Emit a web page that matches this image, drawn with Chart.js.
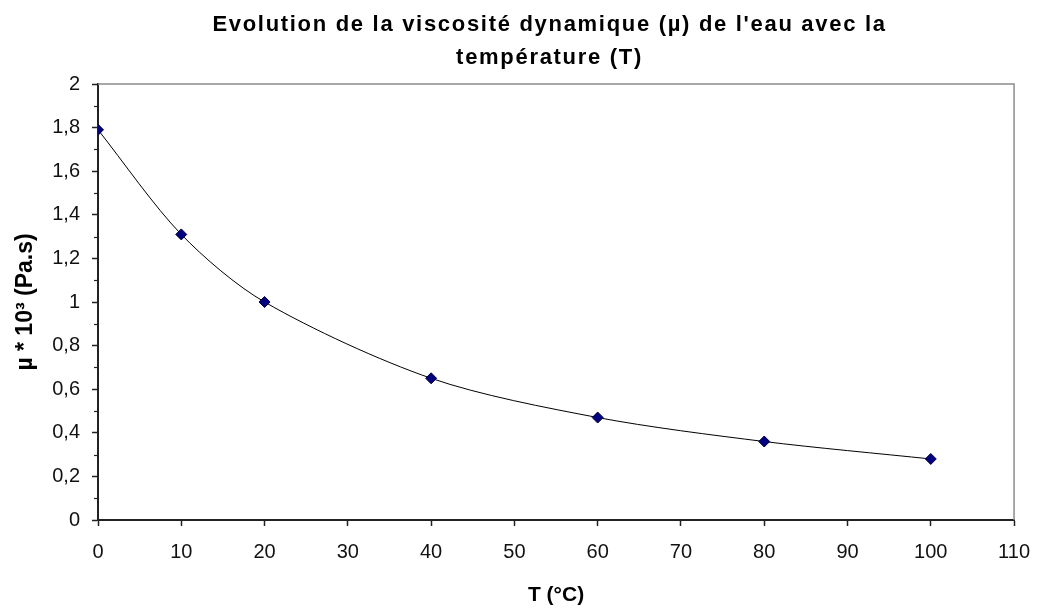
<!DOCTYPE html>
<html>
<head>
<meta charset="utf-8">
<script src="https://cdn.jsdelivr.net/npm/chart.js@4"></script>
<style>
  html, body { margin: 0; padding: 0; background: #fff; }
  #wrap { width: 1044px; height: 608px; }
</style>
</head>
<body>
<div id="wrap"><canvas id="chart"></canvas></div>
<script>
const temperatures = [0, 10, 20, 40, 60, 80, 100];
const viscosity = [1.79, 1.31, 1.00, 0.65, 0.47, 0.36, 0.28];
const titleLines = ["Evolution de la viscosité dynamique (µ) de l'eau avec la", "température (T)"];
const xTitle = 'T (°C)';
const yTitle = 'µ * 10³ (Pa.s)';

const points = temperatures.map((t, i) => ({ x: t, y: viscosity[i] }));

// spread the title letters a bit and center it over the plot, like the original
const titleSpacing = {
  id: 'titleSpacing',
  beforeDraw(chart) {
    const t = chart.titleBlock;
    if (t && !t._spaced) {
      const orig = t.draw.bind(t);
      t.draw = (area) => {
        const c = chart.ctx;
        const a = chart.chartArea;
        c.save();
        c.letterSpacing = '1.7px';
        c.translate((a.left + a.right) / 2 - chart.width / 2 + 7, 0);
        orig(area);
        c.restore();
      };
      t._spaced = true;
    }
  }
};

// gray plot frame on top and right + minor ticks on y
const frame = {
  id: 'frame',
  beforeDatasetsDraw(chart) {
    const { ctx, chartArea: a, scales } = chart;
    ctx.save();
    ctx.strokeStyle = '#8c8c8c';
    ctx.lineWidth = 1.5;
    ctx.beginPath();
    ctx.moveTo(a.left, a.top);
    ctx.lineTo(a.right, a.top);
    ctx.lineTo(a.right, a.bottom);
    ctx.stroke();
    ctx.strokeStyle = '#222';
    ctx.lineWidth = 1.2;
    for (let v = 0.1; v < 2; v += 0.2) {
      const y = Math.round(scales.y.getPixelForValue(v)) + 0.5;
      ctx.beginPath();
      ctx.moveTo(a.left - 4, y);
      ctx.lineTo(a.left, y);
      ctx.stroke();
    }
    ctx.restore();
  }
};

new Chart(document.getElementById('chart'), {
  type: 'line',
  data: {
    datasets: [{
      data: points,
      borderColor: '#000',
      borderWidth: 1,
      tension: 0.3,
      pointStyle: 'rectRot',
      pointRadius: 5.5,
      pointBackgroundColor: '#000080',
      pointBorderColor: '#000033',
      pointBorderWidth: 1
    }]
  },
  options: {
    responsive: true,
    maintainAspectRatio: false,
    animation: false,
    layout: { padding: { top: 0, right: 27, bottom: 0, left: 0 } },
    plugins: {
      legend: { display: false },
      tooltip: { enabled: false },
      title: {
        display: true,
        text: titleLines,
        color: '#000',
        font: { family: 'Liberation Sans', size: 22, weight: 'bold', lineHeight: 1.5 },
        padding: { top: 8, bottom: 10 }
      }
    },
    scales: {
      x: {
        type: 'linear',
        min: 0,
        max: 110,
        ticks: {
          stepSize: 10,
          color: '#111',
          padding: 14,
          font: { family: 'Liberation Sans', size: 20 }
        },
        grid: { drawOnChartArea: false, tickLength: 6, tickColor: '#222', tickWidth: 1.5 },
        border: { color: '#222', width: 2 },
        title: {
          display: true,
          text: xTitle,
          color: '#000',
          font: { family: 'Liberation Sans', size: 21, weight: 'bold', lineHeight: 1.2 },
          padding: { top: 0, bottom: 0 }
        },
        afterFit(s) { s.height = 88; }
      },
      y: {
        min: 0,
        max: 2,
        ticks: {
          stepSize: 0.2,
          color: '#111',
          padding: 12,
          font: { family: 'Liberation Sans', size: 20 },
          callback: v => String(Math.round(v * 10) / 10).replace('.', ',')
        },
        grid: { drawOnChartArea: false, tickLength: 6, tickColor: '#222', tickWidth: 1.5 },
        border: { color: '#222', width: 2 },
        title: {
          display: true,
          text: yTitle,
          color: '#000',
          font: { family: 'Liberation Sans', size: 23, weight: 'bold', lineHeight: 1.2 },
          padding: { top: 12, bottom: 0 }
        },
        afterFit(s) { s.width = 98; }
      }
    }
  },
  plugins: [titleSpacing, frame]
});
</script>
</body>
</html>
